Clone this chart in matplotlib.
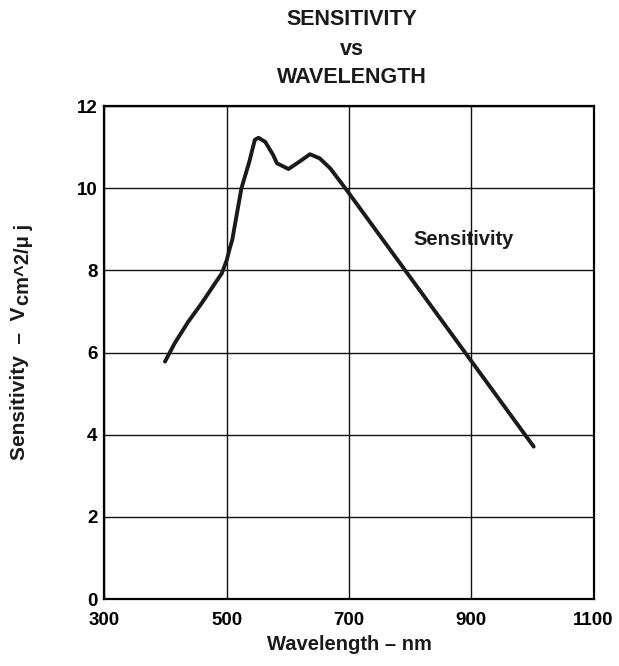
import matplotlib
matplotlib.use("Agg")
import matplotlib.pyplot as plt

plt.rcParams['font.family'] = ['Liberation Sans', 'DejaVu Sans']
plt.rcParams['font.weight'] = 'bold'

# curve
wavelength = [399, 415, 437, 459, 481, 492, 500, 505, 509, 524, 537, 541, 546, 552,
              563, 576, 582, 601, 620, 636, 652, 669, 694, 1002]
sensitivity = [5.78, 6.23, 6.75, 7.20, 7.69, 7.93, 8.25, 8.54, 8.74, 10.00, 10.65, 10.89,
               11.18, 11.23, 11.13, 10.81, 10.61, 10.47, 10.66, 10.83, 10.73, 10.49,
               10.00, 3.71]

x_ticks = [300, 500, 700, 900, 1100]
y_ticks = [0, 2, 4, 6, 8, 10, 12]

fig = plt.figure(figsize=(6.19, 6.66), dpi=100)
ax = fig.add_axes([0.1687, 0.1006, 0.7903, 0.740])

ax.plot(wavelength, sensitivity, color='#1a1a1a', linewidth=2.8,
        solid_capstyle='round', solid_joinstyle='round')
ax.set_xlim(300, 1100)
ax.set_ylim(0, 12)
ax.set_xticks(x_ticks)
ax.set_yticks(y_ticks)
ax.grid(True, color='#111111', linewidth=1.0)
ax.tick_params(length=0, labelsize=13.5)
ax.tick_params(axis='x', pad=9)
ax.tick_params(axis='y', pad=5)
for lab in ax.get_xticklabels() + ax.get_yticklabels():
    lab.set_fontweight('bold')
for sp in ax.spines.values():
    sp.set_linewidth(1.6)

ax.text(805, 8.76, 'Sensitivity', fontsize=14.5, fontweight='bold', va='center', ha='left',
        color='#1a1a1a')

title_lines = ['SENSITIVITY', 'vs', 'WAVELENGTH']
title_y = [0.9625, 0.9174, 0.8754]
for t, y in zip(title_lines, title_y):
    fig.text(0.5687, y, t, fontsize=15.5, fontweight='bold', ha='center', va='baseline',
             color='#1a1a1a')

ax.set_xlabel('Wavelength – nm', fontsize=14.5, fontweight='bold', labelpad=5,
              color='#1a1a1a')

# y label in two pieces so the subscript keeps its literal caret
ylab = fig.text(0.032, 0.309, 'Sensitivity  –  V', rotation=90, fontsize=15,
                fontweight='bold', ha='center', va='bottom', color='#1a1a1a')
ax.annotate('cm^2/μ j', xy=(0.5, 1.0), xycoords=ylab, xytext=(3, 1),
            textcoords='offset points', rotation=90, fontsize=14.5,
            fontweight='bold', ha='center', va='bottom', color='#1a1a1a')

fig.savefig('out.png', dpi=100)
